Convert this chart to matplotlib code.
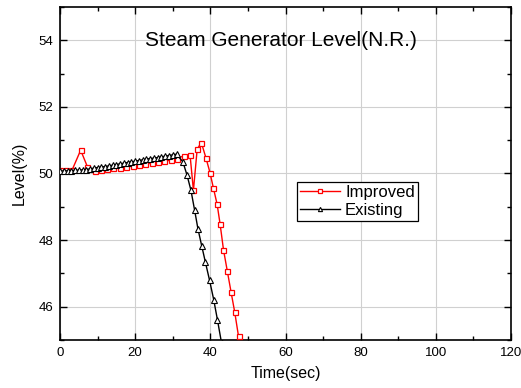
import matplotlib
matplotlib.use('Agg')
import matplotlib.pyplot as plt
from matplotlib.ticker import MultipleLocator

# --- data ---
existing_t = [0, 1, 2, 3, 4, 5, 6, 7, 8, 9, 10, 11, 12, 13, 14, 15, 16, 17, 18, 19,
              20, 21, 22, 23, 24, 25, 26, 27, 28, 29, 30, 31, 32.7, 33.8, 34.85,
              35.8, 36.7, 37.7, 38.7, 39.8, 40.9, 41.9, 43.0]
existing_lv = [50.07, 50.08, 50.08, 50.09, 50.10, 50.10, 50.11, 50.12, 50.14, 50.16,
               50.18, 50.19, 50.21, 50.23, 50.25, 50.27, 50.29, 50.31, 50.33, 50.35,
               50.37, 50.39, 50.41, 50.43, 50.45, 50.46, 50.48, 50.50, 50.52, 50.54,
               50.56, 50.58, 50.35, 49.95, 49.49, 48.91, 48.34, 47.83, 47.33, 46.79,
               46.21, 45.60, 44.90]

improved_t = [0, 1.5, 3.2, 5.5, 7.3, 9.2, 10.8, 12.5, 14.2, 15.9, 17.6, 19.3, 21.0,
              22.7, 24.4, 26.1, 27.8, 29.5, 31.2, 33.1, 34.6, 35.5, 36.5, 37.6, 38.8,
              39.9, 40.8, 41.8, 42.6, 43.5, 44.5, 45.5, 46.5, 47.5]
improved_lv = [50.12, 50.12, 50.10, 50.70, 50.20, 50.08, 50.10, 50.13, 50.16, 50.18,
               50.20, 50.22, 50.25, 50.28, 50.31, 50.34, 50.37, 50.40, 50.45, 50.54,
               50.56, 49.49, 50.73, 50.93, 50.48, 50.03, 49.57, 49.08, 48.48, 47.71,
               47.08, 46.45, 45.83, 45.11]

plt.rcParams['font.family'] = ['Liberation Sans', 'DejaVu Sans']
plt.rcParams['font.size'] = 9.5

fig = plt.figure(figsize=(5.21, 3.88), dpi=100)
ax = fig.add_axes([60 / 521, 48 / 388, 451 / 521, 333 / 388])

ax.plot(improved_t, improved_lv, color='red', lw=1.0, marker='s', ms=3.6,
        mfc='white', mec='red', mew=0.9, label='Improved', zorder=3)
ax.plot(existing_t, existing_lv, color='black', lw=1.0, marker='^', ms=3.8,
        mfc='white', mec='black', mew=0.8, label='Existing', zorder=4)

ax.set_xlim(0, 120)
ax.set_ylim(45, 55)
ax.xaxis.set_major_locator(MultipleLocator(20))
ax.xaxis.set_minor_locator(MultipleLocator(10))
ax.yaxis.set_major_locator(MultipleLocator(2))
ax.yaxis.set_minor_locator(MultipleLocator(1))
ax.set_yticks([46, 48, 50, 52, 54])

ax.grid(True, which='major', color='#d0d0d0', lw=0.8, zorder=0)
ax.set_axisbelow(True)
ax.tick_params(which='both', direction='in', top=True, right=True, width=1.0)
ax.tick_params(which='major', length=5, labelsize=9.5, pad=5)
ax.tick_params(which='minor', length=3)
for s in ax.spines.values():
    s.set_linewidth(1.2)

ax.set_xlabel('Time(sec)', fontsize=11.5, labelpad=5)
ax.set_ylabel('Level(%)', fontsize=11.5, labelpad=8)
ax.text(0.49, 0.9, 'Steam Generator Level(N.R.)', transform=ax.transAxes,
        ha='center', va='center', fontsize=15)

leg = ax.legend(loc='upper left', bbox_to_anchor=(0.525, 0.475), fontsize=12,
                frameon=True, fancybox=False, edgecolor='black', framealpha=1,
                handlelength=2.4, handletextpad=0.3, borderpad=0.2,
                labelspacing=0.15, markerscale=0.8, borderaxespad=0)
leg.get_frame().set_linewidth(0.9)

fig.savefig('out.png', dpi=100)
